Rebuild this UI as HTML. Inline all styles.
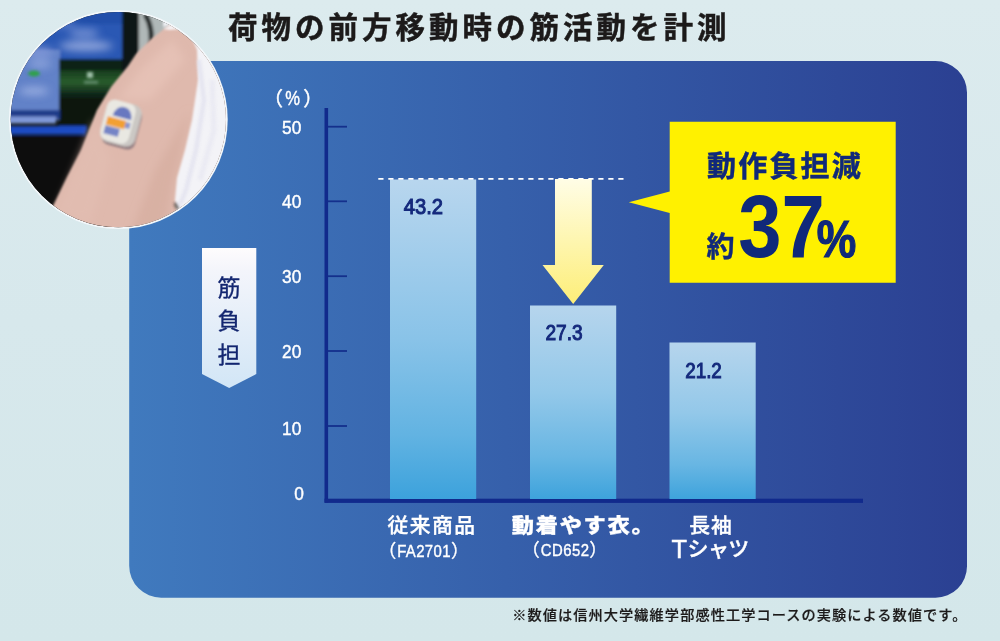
<!DOCTYPE html>
<html lang="ja">
<head>
<meta charset="utf-8">
<title>荷物の前方移動時の筋活動を計測</title>
<style>
html,body{margin:0;padding:0;}
body{width:1000px;height:641px;overflow:hidden;background:#d7e8ec;font-family:"Liberation Sans","Noto Sans CJK JP",sans-serif;}
svg{display:block;position:absolute;left:0;top:0;}
text{font-family:"Liberation Sans","Noto Sans CJK JP",sans-serif;}
.jp{font-family:"Liberation Sans","Noto Sans CJK JP",sans-serif;}
</style>
</head>
<body>
<svg width="1000" height="641" viewBox="0 0 1000 641">
<defs>
  <linearGradient id="bg" x1="0" y1="0" x2="0" y2="1">
    <stop offset="0" stop-color="#dcebee"/>
    <stop offset="0.5" stop-color="#d7e8ec"/>
    <stop offset="1" stop-color="#d4e7ea"/>
  </linearGradient>
  <linearGradient id="panel" x1="0" y1="0" x2="1" y2="0">
    <stop offset="0" stop-color="#407abe"/>
    <stop offset="0.45" stop-color="#3660ab"/>
    <stop offset="1" stop-color="#2b4092"/>
  </linearGradient>
  <linearGradient id="bar" x1="0" y1="0" x2="0" y2="1">
    <stop offset="0" stop-color="#b8d6ee"/>
    <stop offset="0.5" stop-color="#89c3e8"/>
    <stop offset="0.8" stop-color="#62b3e2"/>
    <stop offset="1" stop-color="#3ca2dc"/>
  </linearGradient>
  <linearGradient id="bar2" x1="0" y1="0" x2="0" y2="1">
    <stop offset="0" stop-color="#b6d5ed"/>
    <stop offset="0.45" stop-color="#93c8e9"/>
    <stop offset="0.78" stop-color="#68b6e3"/>
    <stop offset="1" stop-color="#3ea3dc"/>
  </linearGradient>
  <linearGradient id="arrow" x1="0" y1="0" x2="0" y2="1">
    <stop offset="0" stop-color="#fffde6"/>
    <stop offset="1" stop-color="#fdee78"/>
  </linearGradient>
  <linearGradient id="lbl" x1="0" y1="0" x2="0" y2="1">
    <stop offset="0" stop-color="#fefcfd"/>
    <stop offset="0.15" stop-color="#f4f5fb"/>
    <stop offset="1" stop-color="#d2e6f6"/>
  </linearGradient>
  <linearGradient id="grn" x1="0" y1="0" x2="0" y2="1">
    <stop offset="0" stop-color="#163a1c"/>
    <stop offset="0.5" stop-color="#2a5c2c"/>
    <stop offset="1" stop-color="#10281a"/>
  </linearGradient>
  <clipPath id="circ"><circle cx="118.3" cy="119.6" r="107.6"/></clipPath>
  <filter id="b2" x="-20%" y="-20%" width="140%" height="140%"><feGaussianBlur stdDeviation="1.6"/></filter>
  <filter id="b1" x="-20%" y="-20%" width="140%" height="140%"><feGaussianBlur stdDeviation="0.8"/></filter>
  <filter id="b4" x="-20%" y="-20%" width="140%" height="140%"><feGaussianBlur stdDeviation="4"/></filter>
</defs>

<rect width="1000" height="641" fill="url(#bg)"/>

<!-- panel -->
<path d="M129.2 61 H935.5 A31.5 31.5 0 0 1 967 92.5 V566.2 A31.5 31.5 0 0 1 935.5 597.7 H161.2 A32 32 0 0 1 129.2 565.7 Z" fill="url(#panel)"/>

<!-- photo -->
<circle cx="118.3" cy="119.6" r="109.4" fill="#f4f8fb"/>
<g clip-path="url(#circ)">
  <rect x="0" y="0" width="240" height="240" fill="#0b100c"/>

  <!-- screens -->
  <g filter="url(#b2)">
    <rect x="0" y="0" width="124" height="62" fill="#2a58b4"/>
    <rect x="0" y="0" width="124" height="24" fill="#2450aa"/>
    <rect x="0" y="50" width="60" height="70" fill="#6282c8"/>
    <rect x="59" y="59" width="65" height="72" fill="#0f2414"/>
    <rect x="59" y="70" width="65" height="24" fill="url(#grn)"/>
    <rect x="59" y="98" width="65" height="32" fill="#0a160d"/>
    <rect x="0" y="110" width="60" height="9" fill="#1e3a88"/>
    <rect x="0" y="116.5" width="56" height="7" fill="#7f98d8"/>
    <rect x="0" y="126" width="86" height="8.5" fill="#1c4cc2"/>
    <rect x="0" y="136" width="110" height="110" fill="#0a0e0b"/>
    <rect x="122" y="0" width="18" height="95" fill="#0d1518"/>
    <rect x="139" y="0" width="42" height="60" fill="#b0b8b8"/>
    <path d="M145 14 C151 24 153 36 150 50" stroke="#1c2424" stroke-width="5" fill="none"/>
  </g>
  <g filter="url(#b4)" opacity="0.9">
    <ellipse cx="86" cy="46" rx="27" ry="4.5" fill="#a6b6e4"/>
    <ellipse cx="84" cy="33" rx="15" ry="3.5" fill="#8fa4de"/>
    <ellipse cx="64" cy="24" rx="12" ry="3" fill="#6f8cd4"/>
    <ellipse cx="40" cy="52" rx="14" ry="5" fill="#8399d8"/>
    <ellipse cx="40" cy="64" rx="12" ry="4" fill="#93a9df"/>
    <ellipse cx="34" cy="91" rx="15" ry="3.5" fill="#a8bae8"/>
  </g>
  <g filter="url(#b2)">
    <ellipse cx="34" cy="73.5" rx="6" ry="3" fill="#2ea04a"/>
    <rect x="87" y="72" width="6" height="6" fill="#9fc0a8"/>
    <rect x="84" y="81" width="14" height="2.5" fill="#6c9478"/>
  </g>
  <!-- arm -->
  <g filter="url(#b1)">
    <path d="M169 25 L150 40 L136 54 L128 66 L111 87 L97 110 L89 130 L81 150 L67 177 L52 208 L40 240 L240 240 L240 0 L190 0 Z" fill="#dfb9ad"/>
  </g>
  <g filter="url(#b4)">
    <path d="M172 40 L140 70 L118 100 L150 100 L185 60 Z" fill="#e7c3b8" opacity="0.8"/>
    <path d="M190 110 L182 150 L172 190 L165 230 L130 235 L155 170 Z" fill="#d4a99b" opacity="0.55"/>
    <path d="M95 120 L72 175 L55 215 L90 225 L110 160 Z" fill="#e2bdb1" opacity="0.8"/>
  </g>
  <!-- sleeve -->
  <g filter="url(#b1)">
    <path d="M163 27 L170 24.5 L190 33 L197 50 L198 80 L192 120 L185 150 L177 178 L175 200 L177 211 L240 215 L240 0 L165 0 Z" fill="#f3f3f7"/>
    <path d="M163 29 L171 25 L180 29 L170 30 Z" fill="#f6f2f4"/>
  </g>
  <g filter="url(#b2)" opacity="0.8">
    <path d="M199 60 L204 100 L196 150 L186 190 L180 205" stroke="#e0e0ee" stroke-width="4" fill="none"/>
    <path d="M212 80 L214 130 L200 180" stroke="#e8e8f2" stroke-width="5" fill="none"/>
    <path d="M175 203 L178 209" stroke="#30302c" stroke-width="3" fill="none"/>
  </g>
  <!-- sensor -->
  <g transform="translate(120.3 123.6) rotate(15)" filter="url(#b1)">
    <rect x="-14.5" y="-18.5" width="34" height="42" rx="8" fill="#7d6d76" opacity="0.8"/>
    <rect x="-17.5" y="-22" width="36" height="43" rx="9" fill="#cbc8c4"/>
    <rect x="-17.5" y="-22" width="29.5" height="41.5" rx="8" fill="#e9e8e2"/>
    <path d="M-9.5 -6 A9.5 11 0 0 1 9.5 -6 Z" fill="#6878c0"/>
    <rect x="-14" y="-4" width="19" height="8.5" fill="#f2a033"/>
    <rect x="-14" y="5.5" width="15" height="8" fill="#7484c6"/>
    <rect x="5" y="-3" width="5" height="6" fill="#8c96cc"/>
  </g>
</g>

<!-- title -->
<text class="jp" x="228" y="37.8" font-size="29.5" font-weight="700" fill="#1c1a1a" stroke="#1c1a1a" stroke-width="0.5" letter-spacing="4">荷物の前方移動時の筋活動を計測</text>

<!-- axes -->
<rect x="324.5" y="108" width="3.6" height="394.5" fill="#112a8c"/>
<rect x="324.5" y="498.7" width="538.5" height="4.2" fill="#112a8c"/>
<g fill="#14308c">
  <rect x="328" y="125.8" width="19" height="1.8"/>
  <rect x="328" y="200.4" width="19" height="1.8"/>
  <rect x="328" y="275.3" width="19" height="1.8"/>
  <rect x="328" y="350.1" width="19" height="1.8"/>
  <rect x="328" y="425.1" width="19" height="1.8"/>
</g>

<!-- bars -->
<rect x="390" y="179.5" width="86.2" height="319.5" fill="url(#bar)"/>
<rect x="530" y="305.5" width="86.2" height="193.5" fill="url(#bar2)"/>
<rect x="669.5" y="342.5" width="86.2" height="156.5" fill="url(#bar2)"/>

<!-- dashed line -->
<line x1="378.3" y1="178.9" x2="624.6" y2="178.9" stroke="#ffffff" stroke-width="1.8" stroke-dasharray="5.2 4.8"/>

<!-- arrow -->
<path d="M555 179 H591.8 V265 H603.8 L573.2 304 L542.5 265 H555 Z" fill="url(#arrow)"/>

<!-- callout -->
<path d="M669.7 121.7 H895.7 V282.8 H669.7 V213 L628.8 202.2 L669.7 191.6 Z" fill="#fff100"/>
<text class="jp" x="707" y="176.8" font-size="29" font-weight="700" fill="#10297a" stroke="#10297a" stroke-width="0.5" letter-spacing="2.2">動作負担減</text>
<text class="jp" x="706.5" y="256.8" font-size="28" font-weight="700" fill="#10297a" stroke="#10297a" stroke-width="0.4">約</text>
<text x="0" y="0" font-size="89.8" font-weight="700" fill="#10297a" transform="translate(738.3 256.9) scale(0.866 1)">37</text>
<text x="0" y="0" font-size="51" font-weight="700" fill="#10297a" stroke="#10297a" stroke-width="1.2" transform="translate(816.8 256.8) scale(0.87 1)">%</text>

<!-- y label -->
<path d="M202 248 H256.3 V374 L229.2 388 L202 374 Z" fill="url(#lbl)"/>
<g font-size="23" font-weight="400" fill="#132670" stroke="#132670" stroke-width="0.35" text-anchor="middle">
  <text class="jp" x="229" y="295.7">筋</text>
  <text class="jp" x="229" y="329.2">負</text>
  <text class="jp" x="229" y="362.7">担</text>
</g>

<!-- axis numbers -->
<g font-size="18.6" fill="#ffffff" stroke="#ffffff" stroke-width="0.45">
  <text text-anchor="end" transform="translate(301.3 133.6) scale(0.93 1)">50</text>
  <text text-anchor="end" transform="translate(301.3 208.3) scale(0.93 1)">40</text>
  <text text-anchor="end" transform="translate(301.3 283.2) scale(0.93 1)">30</text>
  <text text-anchor="end" transform="translate(301.3 358.1) scale(0.93 1)">20</text>
  <text text-anchor="end" transform="translate(301.3 435.2) scale(0.93 1)">10</text>
  <text text-anchor="end" transform="translate(304 500.3) scale(0.93 1)">0</text>
</g>
<g fill="#ffffff" stroke="#ffffff" stroke-width="0.4">
<text class="jp" font-size="19.5" x="263.5" y="105.6">（</text>
<text font-size="20" transform="translate(285.3 105) scale(0.83 1)">%</text>
<text class="jp" font-size="19.5" x="303.3" y="105.6">）</text>
</g>

<!-- values -->
<g font-size="21.6" font-weight="400" fill="#14297c" stroke="#14297c" stroke-width="1">
  <text transform="translate(403.8 213.9) scale(0.935 1)">43.2</text>
  <text transform="translate(545.4 340) scale(0.885 1)">27.3</text>
  <text transform="translate(685.2 377.5) scale(0.872 1)">21.2</text>
</g>

<!-- bar labels -->
<g fill="#ffffff" stroke="#ffffff">
  <text class="jp" x="387.5" y="532.6" font-size="20.8" font-weight="500" stroke-width="0.35" letter-spacing="1.45">従来商品</text>
  <text class="jp" x="378.2" y="557.4" font-size="18" font-weight="400" stroke-width="0.3">（</text>
  <text font-size="16.6" font-weight="400" stroke-width="0.4" letter-spacing="0.4" transform="translate(397.2 557.4) scale(0.9 1)">FA2701</text>
  <text class="jp" x="451" y="557.4" font-size="18" font-weight="400" stroke-width="0.3">）</text>
  <text class="jp" font-size="20.4" font-weight="900" stroke-width="0.3" letter-spacing="1.55" transform="translate(511.8 532.9) scale(1.09 1)">動着やす衣。</text>
  <text class="jp" x="521.7" y="556" font-size="18" font-weight="400" stroke-width="0.3">（</text>
  <text font-size="16.6" font-weight="400" stroke-width="0.4" letter-spacing="0.55" transform="translate(540.7 555.8) scale(0.9 1)">CD652</text>
  <text class="jp" x="589.2" y="556" font-size="18" font-weight="400" stroke-width="0.3">）</text>
  <text class="jp" x="689.2" y="533" font-size="20.8" font-weight="500" stroke-width="0.35" letter-spacing="1">長袖</text>
  <text class="jp" x="671.6" y="558" font-size="21" font-weight="500" stroke-width="0.4" letter-spacing="0"><tspan font-size="25.4" font-weight="400" stroke-width="0.5">T</tspan><tspan dx="0.4" dy="-1.6" letter-spacing="-0.6">シャツ</tspan></text>
</g>

<!-- footnote -->
<text class="jp" x="512.3" y="619.6" font-size="14.2" font-weight="500" fill="#1c1a1a" stroke="#1c1a1a" stroke-width="0.2" letter-spacing="1.07">※数値は信州大学繊維学部感性工学コースの実験による数値です。</text>
</svg>
</body>
</html>
